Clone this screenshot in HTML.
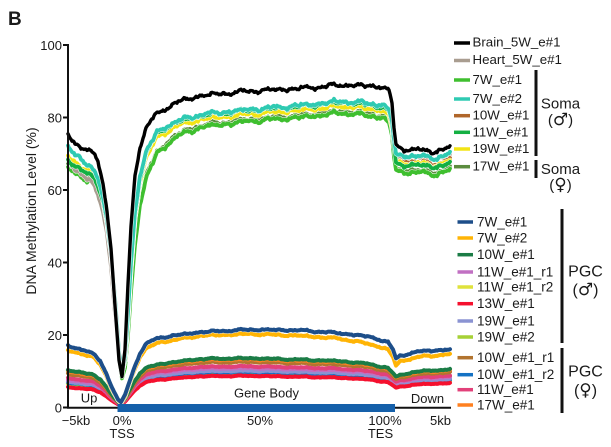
<!DOCTYPE html>
<html><head><meta charset="utf-8">
<style>
html,body{margin:0;padding:0;background:#fff;}
svg{display:block;}
text{font-family:"Liberation Sans","DejaVu Sans",sans-serif;fill:#1a1a1a;}
.sym{font-family:"DejaVu Sans",sans-serif;font-size:17px;}
</style></head><body>
<svg id="s" width="611" height="447" viewBox="0 0 611 447" xmlns="http://www.w3.org/2000/svg">
<text x="8" y="25" font-size="19" font-weight="bold">B</text>
<text transform="translate(36,211) rotate(-90)" font-size="14" text-anchor="middle">DNA Methylation Level (%)</text>
<g id="curves" fill="none" stroke-linejoin="round" stroke-linecap="round"></g>
<g stroke="#111" stroke-width="2">
<line x1="68" y1="44" x2="68" y2="408.5"/>
<line x1="63" y1="45" x2="68" y2="45"/>
<line x1="63" y1="117.5" x2="68" y2="117.5"/>
<line x1="63" y1="190" x2="68" y2="190"/>
<line x1="63" y1="262.5" x2="68" y2="262.5"/>
<line x1="63" y1="335" x2="68" y2="335"/>
<line x1="63" y1="407.5" x2="68" y2="407.5"/>
<line x1="67" y1="407.7" x2="118" y2="407.7"/>
<line x1="394" y1="407.7" x2="451" y2="407.7"/>
</g>
<rect x="117.5" y="404" width="277.5" height="8" fill="#1560aa"/>
<g font-size="13" text-anchor="end">
<text x="62" y="50">100</text>
<text x="62" y="122.5">80</text>
<text x="62" y="195">60</text>
<text x="62" y="267.5">40</text>
<text x="62" y="340">20</text>
<text x="62" y="412.5">0</text>
</g>
<g font-size="13" text-anchor="middle">
<text x="76" y="425">−5kb</text>
<text x="122" y="425">0%</text>
<text x="122" y="438">TSS</text>
<text x="260" y="425">50%</text>
<text x="385" y="425">100%</text>
<text x="380.5" y="438">TES</text>
<text x="440.5" y="425">5kb</text>
<text x="89" y="402.5">Up</text>
<text x="266.5" y="397.5">Gene Body</text>
<text x="427.5" y="403">Down</text>
</g>
<g stroke-width="3.5" fill="none">
<line x1="454" y1="43" x2="470" y2="43" stroke="#000"/>
<line x1="454" y1="60.5" x2="470" y2="60.5" stroke="#a99d90"/>
<line x1="454" y1="80" x2="470" y2="80" stroke="#3fbf2f"/>
<line x1="454" y1="99" x2="470" y2="99" stroke="#2fcab2"/>
<line x1="454" y1="115.7" x2="470" y2="115.7" stroke="#b0662a"/>
<line x1="454" y1="132.3" x2="470" y2="132.3" stroke="#14b043"/>
<line x1="454" y1="149" x2="470" y2="149" stroke="#f2e415"/>
<line x1="454" y1="166.7" x2="470" y2="166.7" stroke="#5b8c3e"/>
</g>
<g font-size="13.3">
<text x="472.5" y="46.5">Brain_5W_e#1</text>
<text x="472.5" y="64">Heart_5W_e#1</text>
<text x="472.5" y="84">7W_e#1</text>
<text x="472.5" y="103">7W_e#2</text>
<text x="472.5" y="119.7">10W_e#1</text>
<text x="472.5" y="136.3">11W_e#1</text>
<text x="472.5" y="153">19W_e#1</text>
<text x="472.5" y="170.7">17W_e#1</text>
</g>
<rect x="534.5" y="70" width="3" height="86" fill="#111"/>
<rect x="534.5" y="160" width="3" height="18" fill="#111"/>
<g font-size="15" text-anchor="middle">
<text x="560.5" y="108.5">Soma</text>
<text x="560.5" y="125">(<tspan class="sym">♂</tspan>)</text>
<text x="560.5" y="174">Soma</text>
<text x="560.5" y="190">(<tspan class="sym">♀</tspan>)</text>
</g>
<g stroke-width="3.5" fill="none">
<line x1="457.5" y1="222" x2="473" y2="222" stroke="#1d4e89"/>
<line x1="457.5" y1="238" x2="473" y2="238" stroke="#ffb405"/>
<line x1="457.5" y1="254.7" x2="473" y2="254.7" stroke="#1b7c46"/>
<line x1="457.5" y1="272" x2="473" y2="272" stroke="#c170c2"/>
<line x1="457.5" y1="287" x2="473" y2="287" stroke="#dfe23c"/>
<line x1="457.5" y1="303.7" x2="473" y2="303.7" stroke="#f5102e"/>
<line x1="457.5" y1="321" x2="473" y2="321" stroke="#8a93d2"/>
<line x1="457.5" y1="337" x2="473" y2="337" stroke="#a6d136"/>
<line x1="457.5" y1="357.7" x2="473" y2="357.7" stroke="#b2742f"/>
<line x1="457.5" y1="374.7" x2="473" y2="374.7" stroke="#1572c4"/>
<line x1="457.5" y1="389.7" x2="473" y2="389.7" stroke="#e2417a"/>
<line x1="457.5" y1="405" x2="473" y2="405" stroke="#ff8020"/>
</g>
<g font-size="13.5">
<text x="477" y="226.5">7W_e#1</text>
<text x="477" y="242.5">7W_e#2</text>
<text x="477" y="259">10W_e#1</text>
<text x="477" y="276.5">11W_e#1_r1</text>
<text x="477" y="291.5">11W_e#1_r2</text>
<text x="477" y="308">13W_e#1</text>
<text x="477" y="325.5">19W_e#1</text>
<text x="477" y="341.5">19W_e#2</text>
<text x="477" y="362">10W_e#1_r1</text>
<text x="477" y="379">10W_e#1_r2</text>
<text x="477" y="394">11W_e#1</text>
<text x="477" y="409.5">17W_e#1</text>
</g>
<rect x="560.5" y="209" width="3" height="134" fill="#111"/>
<rect x="560.5" y="348" width="3" height="65" fill="#111"/>
<g font-size="16" text-anchor="middle">
<text x="585.5" y="276.5">PGC</text>
<text x="585.5" y="295">(<tspan class="sym">♂</tspan>)</text>
<text x="585.5" y="376.5">PGC</text>
<text x="585.5" y="395.5">(<tspan class="sym">♀</tspan>)</text>
</g>
</svg>
<script>
(function(){
function Y(v){return 407.5-v*3.625;}
function interp(p,x){for(var i=0;i<p.length-1;i++){if(x<=p[i+1][0]){var a=p[i],b=p[i+1];var t=(x-a[0])/(b[0]-a[0]);return a[1]+(b[1]-a[1])*t;}}return p[p.length-1][1];}
function N(x){return 0.5*Math.sin(0.21*x+1)+0.35*Math.sin(0.47*x+2.3)+0.25*Math.sin(1.13*x+0.7)+0.2*Math.sin(2.1*x+4);}
function off(p,du,db){return p.map(function(q){return [q[0],q[1]+(q[0]<119?du:(q[0]>127?db:0))];});}
function scl(p,ku,kb){return p.map(function(q){return [q[0],q[1]*(q[0]<121?ku:kb)];});}
var g=document.getElementById('curves');
function mk(pts,color,w,amp,seed,halo){
  var d='';
  for(var x=68;x<=450;x+=1){
    var v=interp(pts,x);
    var wg=Math.min(1,Math.abs(x-121)/22);
    if(x>388&&x<400)wg*=0.3;
    v+=amp*wg*(N(x)+0.45*N(x*1.37+seed*11));
    d+=(x===68?'M':'L')+x+','+Y(v).toFixed(2);
  }
  if(halo){
    var h=document.createElementNS('http://www.w3.org/2000/svg','path');
    h.setAttribute('d',d);h.setAttribute('stroke','#fff');h.setAttribute('stroke-width',w+halo);
    g.appendChild(h);
  }
  var p=document.createElementNS('http://www.w3.org/2000/svg','path');
  p.setAttribute('d',d);p.setAttribute('stroke',color);p.setAttribute('stroke-width',w);
  g.appendChild(p);
}
var black=[[68,75],[74,73.5],[80,72],[87,71],[93,70],[98,68],[103,62],[107,54],[111,44],[115,28],[119,13],[122,8.5],[125,16],[128,34],[131,50],[135,64],[140,72],[147,77.5],[155,80.5],[165,82.5],[180,84.5],[200,86],[250,87.3],[300,88],[343,89],[383,88.5],[389,87.5],[392,84],[394,77],[396,72.5],[400,71.5],[420,71],[435,70.5],[450,72]];
var turq=[[68,72],[75,70],[80,69],[87,67],[93,65.5],[98,63],[103,58],[107,52],[111,43],[115,30],[119,15],[122,10],[125,14],[128,26],[131,40],[135,54],[140,64],[147,71],[157,76],[175,78.8],[200,80.8],[250,82.2],[300,83.3],[343,84.5],[383,83.5],[389,82],[392,79],[394,74],[396,70],[400,69.5],[420,69.3],[435,68.8],[450,70]];
var green11=[[68,68],[75,67],[80,66],[87,64.5],[93,63.5],[98,61],[103,57],[107,51],[111,43],[115,29],[119,14],[122,9.5],[125,13],[128,25],[131,39],[135,53],[140,63.5],[147,70.5],[157,75.8],[175,78.5],[200,80.5],[250,82],[300,83],[343,84.3],[383,83],[389,81.5],[392,78],[394,72],[396,67.5],[400,67],[420,66.8],[435,66.3],[450,67.5]];
var yellow=[[68,69],[75,68],[80,66.5],[87,65.5],[93,64.5],[98,62],[103,57.5],[107,51],[111,43],[115,29],[119,14],[122,9.5],[125,13],[128,24],[131,38],[135,52],[140,62.5],[147,69.5],[157,74.5],[175,77.5],[200,79.5],[250,81],[300,82],[343,83.2],[383,82],[389,80.5],[392,77],[394,72],[396,68],[400,67.5],[420,67.2],[435,66.7],[450,68]];
var lightgreen=[[68,66],[75,65],[80,64],[87,62.5],[93,61.5],[98,59],[103,55],[107,49],[111,41],[115,28],[119,13],[122,8],[125,11],[128,20],[131,32],[135,45],[140,56],[147,64],[157,70],[175,74.5],[200,77.3],[250,79],[300,80],[343,81.3],[383,80],[389,78.5],[392,75],[394,69],[396,65.5],[400,65],[420,64.8],[435,64.3],[450,65.5]];
var olive=off(lightgreen,1,0.5);
var heart=off(turq,-4,-0.3);
var brown=off(yellow,-0.5,0.4);
var soma=[['#5b8c3e',olive,1],['#3fbf2f',lightgreen,2],['#a99d90',heart,3],['#b0662a',brown,4],['#f2e415',yellow,5],['#14b043',green11,6],['#2fcab2',turq,7]];
soma.forEach(function(s){mk(s[1],s[0],3.8,0.6,s[2],1);});
mk(black,'#000',3.4,0.6,0,1);
var tplG=[[68,10.3],[80,9.8],[93,9],[100,7.8],[106,5.8],[112,3.5],[118,1.6],[121,1.2],[125,2.5],[130,5],[135,7.5],[140,9.5],[147,11],[160,12],[200,13.4],[250,13.6],[300,13.2],[340,12.8],[370,12],[388,10.8],[393,9.5],[396,8.5],[400,9],[420,10],[450,10.5]];
var navy=[[68,17],[80,16.2],[93,14.8],[100,13],[106,9.5],[112,5.5],[118,2.2],[121,1.5],[125,3.5],[130,7.5],[135,11.5],[140,15],[147,17.8],[160,19.3],[200,20.8],[250,21.5],[300,21.3],[340,20.5],[370,19.5],[388,18],[393,16],[396,13.5],[400,14.3],[420,15.5],[450,16]];
var oy=[[68,15.7],[80,15],[93,13.8],[100,12],[106,9],[112,5],[118,2],[121,1.3],[125,3],[130,7],[135,10.8],[140,14],[147,16.5],[160,18],[200,19.8],[250,20.3],[300,19.8],[340,19],[370,17.5],[388,16],[393,14],[396,11.5],[400,12.8],[420,14],[450,14.7]];
var pgc=[
 ['#dfe23c',6.5,9.3],['#a6d136',6.6,9.5],['#1572c4',6.9,9.7],['#8a93d2',7.1,10],
 ['#f5102e',5.6,8.6],
 ['#c170c2',7.6,10.7],['#e2417a',8.1,11.2],['#b2742f',9.3,12.4],['#ff8020',10,13.1]];
pgc.forEach(function(s,i){var ku=s[1]/10.3,kb=s[2]/13.4;mk(scl(tplG,ku,kb),s[0],4,0.2*kb,i+10,0);});
mk(tplG,'#1b7c46',4,0.2,20,0);
mk(oy,'#ffb405',4,0.25,21,0.8);
mk(navy,'#1d4e89',4,0.25,22,0.8);
})();
</script>
</body></html>
